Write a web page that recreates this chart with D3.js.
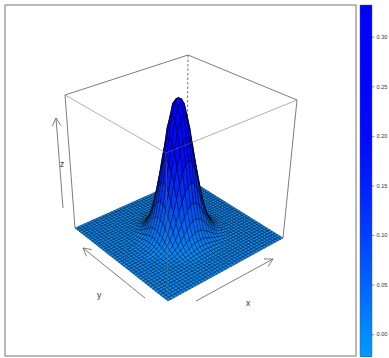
<!DOCTYPE html>
<html>
<head>
<meta charset="utf-8">
<script src="https://cdn.jsdelivr.net/npm/d3@7"></script>
<style>
html, body { margin: 0; padding: 0; background: #fff; }
svg { display: block; font-family: "Liberation Sans", sans-serif; }
</style>
</head>
<body>
<svg width="389" height="358"></svg>
<script>
// grid positions, 41 x 41, same numbering on both axes
const xValues = [-20,-19,-18,-17,-16,-15,-14,-13,-12,-11,-10,-9,-8,-7,-6,-5,-4,-3,-2,-1,0,1,2,3,4,5,6,7,8,9,10,11,12,13,14,15,16,17,18,19,20]
const yValues = [-20,-19,-18,-17,-16,-15,-14,-13,-12,-11,-10,-9,-8,-7,-6,-5,-4,-3,-2,-1,0,1,2,3,4,5,6,7,8,9,10,11,12,13,14,15,16,17,18,19,20]
// heights of the bump in thousandths.
// rows and columns run from -13 to 13, the surface is flat (0) outside
const zCore = [
[0,0,0,0,0,0,0,0,0,0,1,1,1,1,1,1,1,0,0,0,0,0,0,0,0,0,0],
[0,0,0,0,0,0,0,1,1,1,2,2,2,2,2,2,2,1,1,1,0,0,0,0,0,0,0],
[0,0,0,0,0,0,1,1,2,3,4,4,5,5,5,4,4,3,2,1,1,0,0,0,0,0,0],
[0,0,0,0,1,1,2,3,4,6,7,9,10,10,10,9,7,6,4,3,2,1,1,0,0,0,0],
[0,0,0,1,1,2,4,6,8,11,14,17,19,19,19,17,14,11,8,6,4,2,1,1,0,0,0],
[0,0,0,1,2,4,6,10,15,20,26,30,34,35,34,30,26,20,15,10,6,4,2,1,0,0,0],
[0,0,1,2,4,6,11,17,25,34,43,51,57,59,57,51,43,34,25,17,11,6,4,2,1,0,0],
[0,1,1,3,6,10,17,26,39,53,68,80,89,92,89,80,68,53,39,26,17,10,6,3,1,1,0],
[0,1,2,4,8,15,25,39,57,77,99,117,130,135,130,117,99,77,57,39,25,15,8,4,2,1,0],
[0,1,3,6,11,20,34,53,77,106,135,160,178,184,178,160,135,106,77,53,34,20,11,6,3,1,0],
[1,2,4,7,14,26,43,68,99,135,172,204,226,234,226,204,172,135,99,68,43,26,14,7,4,2,1],
[1,2,4,9,17,30,51,80,117,160,204,248,273,285,273,248,204,160,117,80,51,30,17,9,4,2,1],
[1,2,5,10,19,34,57,89,130,178,226,273,306,314,306,273,226,178,130,89,57,34,19,10,5,2,1],
[1,2,5,10,19,35,59,92,135,184,234,285,314,320,314,285,234,184,135,92,59,35,19,10,5,2,1],
[1,2,5,10,19,34,57,89,130,178,226,273,306,314,306,273,226,178,130,89,57,34,19,10,5,2,1],
[1,2,4,9,17,30,51,80,117,160,204,248,273,285,273,248,204,160,117,80,51,30,17,9,4,2,1],
[1,2,4,7,14,26,43,68,99,135,172,204,226,234,226,204,172,135,99,68,43,26,14,7,4,2,1],
[0,1,3,6,11,20,34,53,77,106,135,160,178,184,178,160,135,106,77,53,34,20,11,6,3,1,0],
[0,1,2,4,8,15,25,39,57,77,99,117,130,135,130,117,99,77,57,39,25,15,8,4,2,1,0],
[0,1,1,3,6,10,17,26,39,53,68,80,89,92,89,80,68,53,39,26,17,10,6,3,1,1,0],
[0,0,1,2,4,6,11,17,25,34,43,51,57,59,57,51,43,34,25,17,11,6,4,2,1,0,0],
[0,0,0,1,2,4,6,10,15,20,26,30,34,35,34,30,26,20,15,10,6,4,2,1,0,0,0],
[0,0,0,1,1,2,4,6,8,11,14,17,19,19,19,17,14,11,8,6,4,2,1,1,0,0,0],
[0,0,0,0,1,1,2,3,4,6,7,9,10,10,10,9,7,6,4,3,2,1,1,0,0,0,0],
[0,0,0,0,0,0,1,1,2,3,4,4,5,5,5,4,4,3,2,1,1,0,0,0,0,0,0],
[0,0,0,0,0,0,0,1,1,1,2,2,2,2,2,2,2,1,1,1,0,0,0,0,0,0,0],
[0,0,0,0,0,0,0,0,0,0,1,1,1,1,1,1,1,0,0,0,0,0,0,0,0,0,0]
]
const barTicks = [0, 0.05, 0.1, 0.15, 0.2, 0.25, 0.3]
const colorStops = [-0.0225, 0, 0.05, 0.1, 0.15, 0.2, 0.332]
const colorValues = ['#0099ff', '#008cff', '#0064ff', '#0040ff', '#0020ff', '#0008ff', '#0000ff']

const svg = d3.select('svg')

// corners of the box on screen: [xmin,ymin], [xmax,ymin], [xmax,ymax], [xmin,ymax]
const floorQuad = [[168, 301], [283, 238], [187, 178], [75, 228]]
const roofQuad = [[166, 153], [297, 100], [188, 55], [65, 95]]

const zAt = function (xi, yi) {
    const r = zCore[yValues[yi] + 13]
    if (!r) return 0
    const v = r[xValues[xi] + 13]
    return v === undefined ? 0 : v / 1000
}

const xScale = d3.scaleLinear().domain(d3.extent(xValues)).range([0, 1])
const yScale = d3.scaleLinear().domain(d3.extent(yValues)).range([0, 1])
const zScale = d3.scaleLinear().domain([0, 0.32]).range([0, 1])
const color = d3.scaleLinear().domain(colorStops).range(colorValues).clamp(true)

// unit square to quad, plain homography
function quadMap (q) {
    const [x0, y0] = q[0], [x1, y1] = q[1], [x2, y2] = q[2], [x3, y3] = q[3]
    const dx1 = x1 - x2, dx2 = x3 - x2, sx = x0 - x1 + x2 - x3
    const dy1 = y1 - y2, dy2 = y3 - y2, sy = y0 - y1 + y2 - y3
    const den = dx1 * dy2 - dx2 * dy1
    const g = (sx * dy2 - dx2 * sy) / den
    const h = (dx1 * sy - sx * dy1) / den
    const a = x1 - x0 + g * x1, b = x3 - x0 + h * x3
    const d = y1 - y0 + g * y1, e = y3 - y0 + h * y3
    return function (u, v) {
        const w = g * u + h * v + 1
        return [(a * u + b * v + x0) / w, (d * u + e * v + y0) / w]
    }
}
const floorMap = quadMap(floorQuad)
const roofMap = quadMap(roofQuad)
const project = function (u, v, w) {
    const f = floorMap(u, v), t = roofMap(u, v)
    return [f[0] + (t[0] - f[0]) * w, f[1] + (t[1] - f[1]) * w]
}

// outer frame
svg.append('rect')
    .attr('x', 5).attr('y', 5).attr('width', 351).attr('height', 351)
    .attr('fill', 'none').attr('stroke', '#8c8c8c').attr('stroke-width', 1.2)

const boxLine = function (a, b) {
    return svg.append('line')
	.attr('x1', a[0]).attr('y1', a[1]).attr('x2', b[0]).attr('y2', b[1])
	.attr('stroke', '#6e6e6e').attr('stroke-width', 0.9)
}

// back of the box goes under the surface
boxLine(roofQuad[1], roofQuad[2])
boxLine(roofQuad[2], roofQuad[3])
boxLine(roofQuad[3], floorQuad[3])
boxLine(roofQuad[1], floorQuad[1])
boxLine(roofQuad[2], floorQuad[2]).attr('stroke-dasharray', '2.5,2').attr('stroke', '#666')

// facets, far corner first
const facets = []
for (let yi = yValues.length - 2; yi >= 0; yi--) {
    for (let xi = xValues.length - 2; xi >= 0; xi--) {
	const cell = [[xi, yi], [xi + 1, yi], [xi + 1, yi + 1], [xi, yi + 1]]
	facets.push({
	    z: d3.mean(cell, c => zAt(c[0], c[1])),
	    pts: cell.map(c => project(xScale(xValues[c[0]]), yScale(yValues[c[1]]), zScale(zAt(c[0], c[1]))))
	})
    }
}
svg.append('g').selectAll('path')
    .data(facets)
    .enter()
    .append('path')
    .attr('d', d => 'M' + d.pts.join('L') + 'Z')
    .attr('fill', d => color(d.z))
    .attr('stroke', '#000')
    .attr('stroke-opacity', 0.8)
    .attr('stroke-width', 0.55)

// front edges are drawn over it
boxLine(roofQuad[0], roofQuad[1]).attr('stroke-opacity', 0.6)
boxLine(roofQuad[0], roofQuad[3]).attr('stroke-opacity', 0.6)
boxLine(roofQuad[0], floorQuad[0]).attr('stroke-opacity', 0.6)

// axis arrows
const arrows = [
    [[63, 208], [56, 118]],
    [[196, 301], [273, 259]],
    [[145, 298], [83, 248]]
]
arrows.forEach(function (a) {
    boxLine(a[0], a[1])
    const ang = Math.atan2(a[1][1] - a[0][1], a[1][0] - a[0][0])
    ;[-0.5, 0.5].forEach(function (da) {
	boxLine(a[1], [a[1][0] - 9 * Math.cos(ang + da), a[1][1] - 9 * Math.sin(ang + da)])
    })
})
const axisLabels = [['z', 62, 167], ['y', 99, 298], ['x', 248, 306]]
svg.selectAll('.axis-label')
    .data(axisLabels)
    .enter()
    .append('text')
    .attr('class', 'axis-label')
    .attr('x', d => d[1])
    .attr('y', d => d[2])
    .attr('text-anchor', 'middle')
    .attr('fill', '#333')
    .style('font-size', '8.5px')
    .text(d => d[0])

// colour bar
const barScale = d3.scaleLinear().domain([-0.0225, 0.332]).range([356.5, 5])
const barSteps = d3.range(0, 176).map(i => -0.0225 + i * (0.332 + 0.0225) / 176)
const barStep = (0.332 + 0.0225) / 176
svg.append('g').selectAll('rect')
    .data(barSteps)
    .enter()
    .append('rect')
    .attr('x', 360)
    .attr('width', 12)
    .attr('y', d => barScale(d + barStep))
    .attr('height', d => barScale(d) - barScale(d + barStep) + 0.5)
    .attr('fill', d => color(d + barStep / 2))
svg.append('rect')
    .attr('x', 360).attr('y', 5).attr('width', 12).attr('height', 351.5)
    .attr('fill', 'none').attr('stroke', '#555').attr('stroke-width', 0.4)

const barAxis = d3.axisRight(barScale)
    .tickValues(barTicks)
    .tickSize(2.5)
    .tickPadding(2)
    .tickFormat(d3.format('.2f'))
const barG = svg.append('g')
    .attr('transform', 'translate(372,0)')
    .call(barAxis)
barG.select('.domain').remove()
barG.selectAll('line').attr('stroke', '#555').attr('stroke-width', 0.6)
barG.selectAll('text').attr('fill', '#333').style('font-size', '5.6px').style('font-family', '"Liberation Sans", sans-serif')
</script>
</body>
</html>
